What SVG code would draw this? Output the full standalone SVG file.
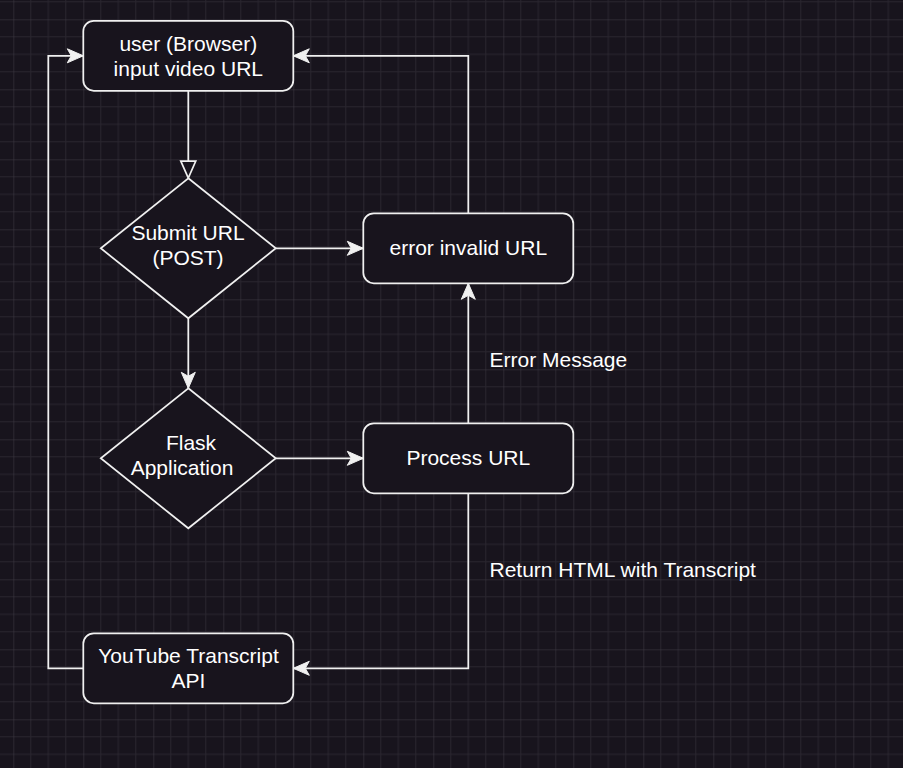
<svg xmlns="http://www.w3.org/2000/svg" width="903" height="768" viewBox="0 0 903 768">
  <style>
    .node { fill: #18141d; stroke: #f0f0f0; stroke-width: 1.75; }
    .edge { fill: none; stroke: #f0f0f0; stroke-width: 1.75; }
    .label { font-family: "Liberation Sans", Arial, sans-serif; font-size: 21px; fill: #ffffff; }
    .mid { text-anchor: middle; }
  </style>
  <defs>
    <pattern id="grid" patternUnits="userSpaceOnUse" x="13.3" y="19.3" width="70" height="70">
      <path d="M17.5,0 V70 M35,0 V70 M52.5,0 V70 M0,17.5 H70 M0,35 H70 M0,52.5 H70" stroke="#2a262f" stroke-width="1" fill="none"/>
      <path d="M0,0 V70 M0,0 H70" stroke="#3f3c45" stroke-width="1" fill="none"/>
    </pattern>
    <marker id="classic" markerUnits="userSpaceOnUse" viewBox="-17 -8 18 16" refX="0" refY="0" markerWidth="18" markerHeight="16" orient="auto">
      <path d="M0,0 L-16,-7 L-12,0 L-16,7 Z" fill="#f0f0f0" stroke="#f0f0f0" stroke-width="1" stroke-linejoin="miter"/>
    </marker>
    <marker id="block-open" markerUnits="userSpaceOnUse" viewBox="-1 -9 20 18" refX="0" refY="0" markerWidth="20" markerHeight="18" orient="auto">
      <path d="M0,-7.5 L17,0 L0,7.5 Z" fill="#18141d" stroke="#f0f0f0" stroke-width="1.75"/>
    </marker>
  </defs>

  <rect x="0" y="0" width="903" height="768" fill="#18141d"/>
  <rect x="0" y="0" width="903" height="768" fill="url(#grid)"/>

  <g id="connectors">
    <path class="edge" d="M188.3,90.8 V161" marker-end="url(#block-open)"/>
    <path class="edge" d="M188.3,318.3 V388.3" marker-end="url(#classic)"/>
    <path class="edge" d="M275.8,248.3 H363.3" marker-end="url(#classic)"/>
    <path class="edge" d="M275.8,458.3 H363.3" marker-end="url(#classic)"/>
    <path class="edge" d="M468.3,423.3 V283.3" marker-end="url(#classic)"/>
    <path class="edge" d="M468.3,213.3 V55.8 H293.3" marker-end="url(#classic)"/>
    <path class="edge" d="M468.3,493.3 V668.3 H293.3" marker-end="url(#classic)"/>
    <path class="edge" d="M83.3,668.3 H48.3 V55.8 H83.3" marker-end="url(#classic)"/>
    <text class="label" x="489.5" y="366.5">Error Message</text>
    <text class="label" x="489.5" y="576.5">Return HTML with Transcript</text>
  </g>

  <g id="user-browser">
    <rect class="node" x="83.3" y="20.8" width="210" height="70" rx="10.5" ry="10.5"/>
    <text class="label mid" x="188.3" y="50.7">user (Browser)</text>
    <text class="label mid" x="188.3" y="75.9">input video URL</text>
  </g>

  <g id="submit-url">
    <path class="node" d="M188.3,178.3 L275.8,248.3 L188.3,318.3 L100.8,248.3 Z"/>
    <text class="label mid" x="188" y="239.5">Submit URL</text>
    <text class="label mid" x="188" y="264.7">(POST)</text>
  </g>

  <g id="flask-app">
    <path class="node" d="M188.3,388.3 L275.8,458.3 L188.3,528.3 L100.8,458.3 Z"/>
    <text class="label mid" x="191" y="450">Flask</text>
    <text class="label mid" x="182" y="475">Application</text>
  </g>

  <g id="error-invalid-url">
    <rect class="node" x="363.3" y="213.3" width="210" height="70" rx="10.5" ry="10.5"/>
    <text class="label mid" x="468.3" y="255.3">error invalid URL</text>
  </g>

  <g id="process-url">
    <rect class="node" x="363.3" y="423.3" width="210" height="70" rx="10.5" ry="10.5"/>
    <text class="label mid" x="468.3" y="465">Process URL</text>
  </g>

  <g id="youtube-api">
    <rect class="node" x="83.3" y="633.3" width="210" height="70" rx="10.5" ry="10.5"/>
    <text class="label mid" x="188.5" y="663">YouTube Transcript</text>
    <text class="label mid" x="188.5" y="688.2">API</text>
  </g>
</svg>
